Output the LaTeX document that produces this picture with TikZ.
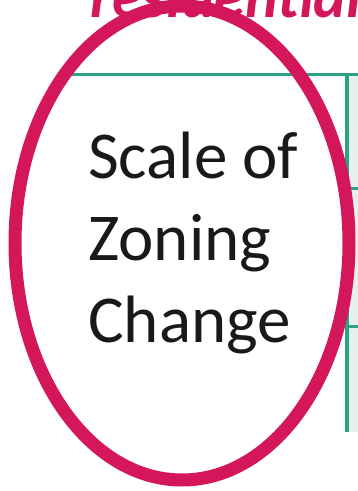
\documentclass[tikz,border=0pt]{standalone}
\usepackage{fontspec}
\setmainfont{Carlito}
\usepackage{xcolor}
\usetikzlibrary{positioning}
\definecolor{crimson}{HTML}{D4175B}
\definecolor{teal_line}{HTML}{2AA384}
\definecolor{cell_fill}{HTML}{E7F0EC}
\begin{document}
\begin{tikzpicture}[
        x=1pt, y=-1pt,
        grid_line/.style={draw=teal_line, line width=3pt},
        label_text/.style={inner sep=0pt, anchor=base west, text=black!90, font=\fontsize{67}{82}\selectfont},
        title_text/.style={inner sep=0pt, text=crimson, font=\fontsize{62}{70}\selectfont\bfseries\itshape},
        ring/.style={draw=crimson, line width=13pt}
    ]
    \clip (0,0) rectangle (358,491);
    \useasboundingbox (0,0) rectangle (358,491);
    % table cells
    \fill[cell_fill] (347,74) rectangle (360,432);
    \draw[grid_line] (60,74) -- (360,74);
    \draw[grid_line, line width=4pt] (347,74) -- (347,432);
    \draw[grid_line] (347,188) -- (360,188);
    \draw[grid_line] (347,326) -- (360,326);
    % texts
    \node[title_text, anchor=base west] (title) at (90,17) {residential};
    \node[label_text] (scale) at (88,178) {Scale of};
    \node[label_text] (zoning) at (88,260) {Zoning};
    \node[label_text] (change) at (88,342) {Change};
    % highlight
    \draw[ring] (182,243) ellipse [x radius=167, y radius=237];
\end{tikzpicture}
\end{document}
